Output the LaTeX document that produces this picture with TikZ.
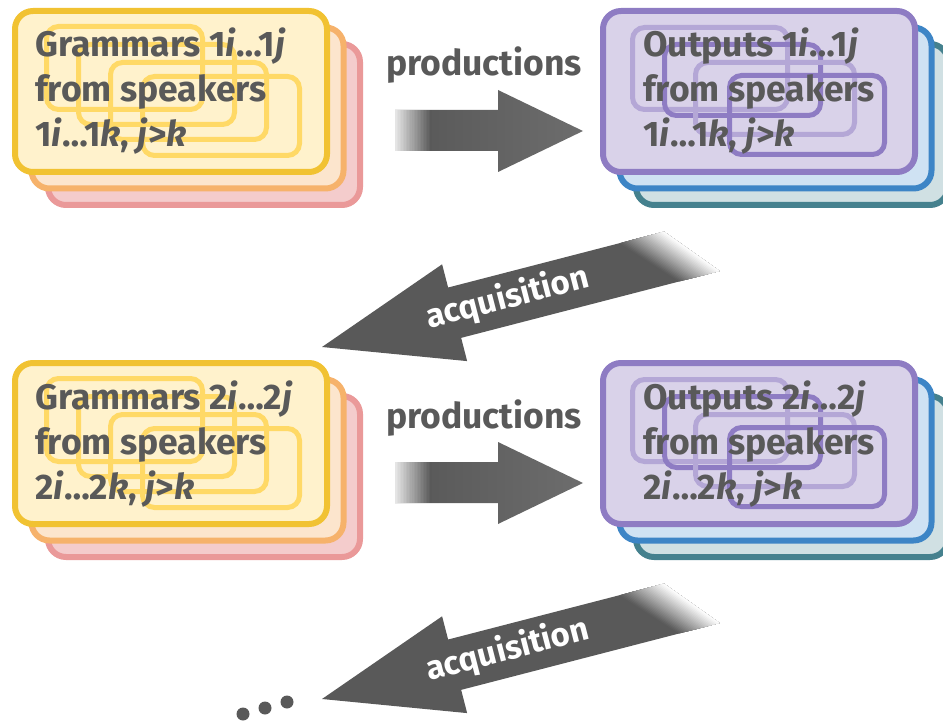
\documentclass[tikz,border=0pt]{standalone}
\usepackage{fontspec}
\setmainfont[Ligatures=NoCommon]{Fira Sans}
\definecolor{txt}{HTML}{595959}
\definecolor{agray}{HTML}{595959}
\definecolor{yelS}{HTML}{F1C232}
\definecolor{yelF}{HTML}{FFF2CC}
\definecolor{yelI}{HTML}{FFD966}
\definecolor{oraS}{HTML}{F6B26B}
\definecolor{oraF}{HTML}{FCE5CD}
\definecolor{pinkS}{HTML}{EA9999}
\definecolor{pinkF}{HTML}{F4CCCC}
\definecolor{purS}{HTML}{8E7CC3}
\definecolor{purF}{HTML}{D9D2E9}
\definecolor{purL}{HTML}{B4A7D6}
\definecolor{blueS}{HTML}{3D85C6}
\definecolor{blueF}{HTML}{CFE2F3}
\definecolor{tealS}{HTML}{45818E}
\definecolor{tealF}{HTML}{D0E0E3}
\begin{document}
\begin{tikzpicture}[x=1pt,y=-1pt,
  card/.style={line width=6pt, rounded corners=18pt},
  innerbox/.style={line width=5pt, rounded corners=12pt},
  lbl/.style={font=\bfseries\fontsize{35.5}{42}\selectfont, text=txt, inner sep=0pt, anchor=base west},
  arrlbl/.style={font=\bfseries\fontsize{35.5}{42}\selectfont, inner sep=0pt, anchor=base},
  acqlbl/.style={font=\bfseries\fontsize{33}{40}\selectfont, inner sep=0pt, anchor=base, text=white}]
\useasboundingbox (0,0) rectangle (943,722);
\clip (0,0) rectangle (943,722);
\foreach \r/\yo in {1/0,2/352}{
\begin{scope}[shift={(0,\yo)}]
  % grammar stack
  \draw[card, draw=pinkS, fill=pinkF] (48,44) rectangle (360,205);
  \draw[card, draw=oraS, fill=oraF] (31.5,27.5) rectangle (343.5,188.5);
  \draw[card, draw=yelS, fill=yelF] (15,11) rectangle (327,172);
  \draw[innerbox, draw=yelI] (46.5,26.5) rectangle (202.5,109.5);
  \draw[innerbox, draw=yelI] (78.5,44.5) rectangle (234.5,124.5);
  \draw[innerbox, draw=yelI] (110.5,62.5) rectangle (266.5,139.5);
  \draw[innerbox, draw=yelI] (142.5,76.5) rectangle (299.5,155.5);
  % output stack
  \draw[card, draw=tealS, fill=tealF] (636,44) rectangle (948,205);
  \draw[card, draw=blueS, fill=blueF] (619.5,27.5) rectangle (931.5,188.5);
  \draw[card, draw=purS, fill=purF] (603,11) rectangle (915,172);
  \draw[innerbox, draw=purL] (632.5,27.5) rectangle (787.5,109.5);
  \draw[innerbox, draw=purS] (664.5,44.5) rectangle (820.5,115.5);
  \draw[innerbox, draw=purL] (695.5,62.5) rectangle (854.5,134.5);
  \draw[innerbox, draw=purS] (729.5,75.5) rectangle (884.5,154.5);
  % texts
  \node[lbl] (g\r a) at (35,57) {Grammars \r\textit{i}…\r\textit{j}};
  \node[lbl] (g\r b) at (35,102) {from speakers};
  \node[lbl] (g\r c) at (35,147) {\r\textit{i}…\r\textit{k}, \textit{j}>\textit{k}};
  \node[lbl] (o\r a) at (643,57) {Outputs \r\textit{i}…\r\textit{j}};
  \node[lbl] (o\r b) at (643,102) {from speakers};
  \node[lbl] (o\r c) at (643,147) {\r\textit{i}…\r\textit{k}, \textit{j}>\textit{k}};
  % productions arrow
  \node[arrlbl, text=txt] (p\r) at (484,76) {productions};
  \shade[left color=agray!97!black, right color=agray!88!white]
    (395,110) -- (498,110) -- (498,90) -- (583,131) -- (498,172) -- (498,151) -- (395,151) -- cycle;
  \foreach \j in {24,23,...,1}{
    \pgfmathsetmacro{\pct}{12+88*\j/24}
    \fill[agray!\pct!white] (395,110) rectangle ({395+37*\j/24},151);
  }
  % acquisition arrow
  \begin{scope}[shift={(322,347)}, rotate=14.5]
    \fill[agray] (0,0) -- (137,-50) -- (137,-26) -- (319,-26) -- (366,26) -- (137,26) -- (137,50) -- cycle;
    \foreach \j in {1,...,24}{
      \pgfmathsetmacro{\ts}{(\j-1)/24}
      \pgfmathsetmacro{\pct}{100*(1-(\j-0.5)/24)}
      \fill[agray!\pct!white] ({314+46*\ts},-26) -- (360,-26) -- (404,26) -- ({362+42*\ts},26) -- cycle;
    }
    \node[acqlbl, rotate=14.5] (a\r) at (192,9) {acquisition};
  \end{scope}
\end{scope}
}
\fill[agray] (287,702) circle (6.5);
\fill[agray] (265,708) circle (6.5);
\fill[agray] (243,714) circle (6.5);
\end{tikzpicture}
\end{document}
